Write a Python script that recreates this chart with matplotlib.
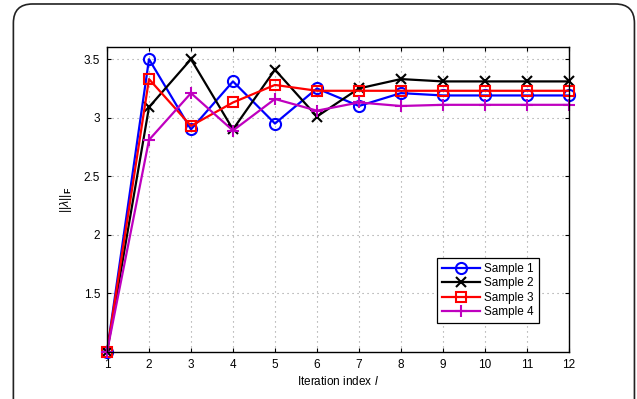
import matplotlib
matplotlib.use("Agg")
import matplotlib.pyplot as plt
from matplotlib.patches import FancyBboxPatch

plt.rcParams['font.family'] = ['Liberation Sans', 'DejaVu Sans']
plt.rcParams['mathtext.fontset'] = 'custom'
plt.rcParams['mathtext.rm'] = 'Liberation Sans'
plt.rcParams['mathtext.it'] = 'Liberation Sans:italic'
plt.rcParams['mathtext.bf'] = 'Liberation Sans:bold'

iterations = list(range(1, 13))
sample1 = [1.0, 3.50, 2.90, 3.31, 2.95, 3.25, 3.10, 3.21, 3.19, 3.19, 3.19, 3.19]
sample2 = [1.0, 3.09, 3.50, 2.90, 3.41, 3.01, 3.25, 3.33, 3.31, 3.31, 3.31, 3.31]
sample3 = [1.0, 3.33, 2.93, 3.13, 3.28, 3.23, 3.23, 3.23, 3.23, 3.23, 3.23, 3.23]
sample4 = [1.0, 2.81, 3.21, 2.89, 3.16, 3.06, 3.13, 3.10, 3.11, 3.11, 3.11, 3.11]
labels = ['Sample 1', 'Sample 2', 'Sample 3', 'Sample 4']

fig = plt.figure(figsize=(6.37, 3.99), dpi=100)

# rounded frame around the figure
frame = FancyBboxPatch((0.021, -0.2), 0.975, 1.19,
                       boxstyle="round,pad=0,rounding_size=0.03",
                       transform=fig.transFigure, fill=False,
                       edgecolor='#222222', linewidth=1.2, mutation_aspect=637/399)
fig.patches.append(frame)

ax = fig.add_axes([0.168, 0.1185, 0.725, 0.7625])

styles = [('blue', 'o', 8), ('black', 'x', 7), ('red', 's', 7), ('#bf00bf', '+', 9)]
for ys, lab, (c, m, ms) in zip([sample1, sample2, sample3, sample4], labels, styles):
    ax.plot(iterations, ys, color=c, marker=m, label=lab, linewidth=1.6,
            markersize=ms, markeredgewidth=1.5,
            markerfacecolor='none', clip_on=False)

ax.set_xlim(1, 12)
ax.set_ylim(1, 3.6)
ax.set_xticks(iterations)
ax.set_yticks([1.5, 2, 2.5, 3, 3.5])
ax.set_yticklabels(['1.5', '2', '2.5', '3', '3.5'])
ax.tick_params(direction='in', top=True, right=True, labelsize=8.5, length=3, pad=5)
ax.grid(True, linestyle=(0, (1, 3.5)), color='#999999', linewidth=0.8)
for s in ax.spines.values():
    s.set_linewidth(1.0)

ax.set_xlabel(r'Iteration index $\mathit{l}$', fontsize=8.5, labelpad=3)
ax.set_ylabel(r'$||\lambda||_\mathbf{F}$', fontsize=9, labelpad=7)

leg = ax.legend(loc='lower right', bbox_to_anchor=(0.935, 0.095), fontsize=8.5,
                fancybox=False, framealpha=1, edgecolor='black',
                handlelength=3.2, handletextpad=0.4, labelspacing=0.2,
                borderpad=0.4, borderaxespad=0)
leg.get_frame().set_linewidth(0.9)

fig.savefig('out.png', dpi=100)
